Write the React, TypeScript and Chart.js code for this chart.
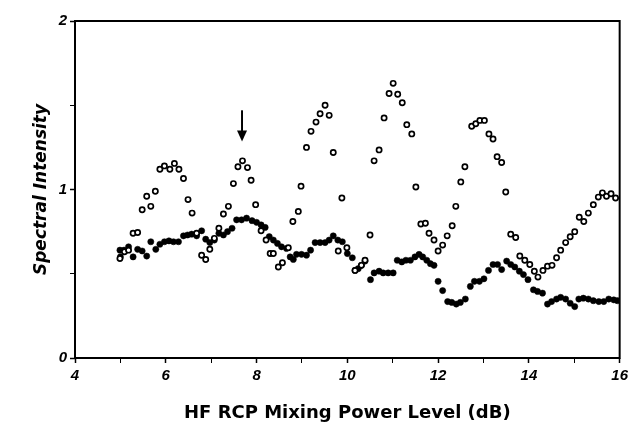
import React, { useEffect, useRef } from 'react';
import { Chart, registerables } from 'chart.js';

Chart.register(...registerables);

// Open circles series: [x (dB), spectral intensity]
const openSeriesX = [
  4.99, 5.09, 5.18, 5.28, 5.38, 5.48, 5.58, 5.67, 5.77, 5.87, 5.97, 6.09, 6.19, 6.29, 6.39, 6.49, 6.58, 6.68, 6.79, 6.88,
  6.97, 7.07, 7.17, 7.27, 7.38, 7.49, 7.59, 7.69, 7.80, 7.88, 7.98, 8.10, 8.21, 8.30, 8.37, 8.48, 8.57, 8.70, 8.80, 8.92,
  8.98, 9.10, 9.20, 9.31, 9.40, 9.51, 9.60, 9.69, 9.80, 9.88, 9.99, 10.17, 10.31, 10.39, 10.50, 10.59, 10.70, 10.81, 10.92, 11.01,
  11.11, 11.21, 11.31, 11.42, 11.51, 11.62, 11.72, 11.80, 11.91, 12.00, 12.10, 12.20, 12.31, 12.39, 12.50, 12.59, 12.74, 12.83, 12.92, 13.02,
  13.12, 13.21, 13.30, 13.40, 13.49, 13.60, 13.71, 13.80, 13.91, 14.02, 14.12, 14.20, 14.31, 14.41, 14.51, 14.61, 14.70, 14.81, 14.91, 15.01,
  15.11, 15.21, 15.31, 15.42, 15.53, 15.62, 15.71, 15.81, 15.91,
];
const openSeriesY = [
  0.59, 0.63, 0.64, 0.74, 0.745, 0.88, 0.96, 0.90, 0.99, 1.12, 1.14, 1.12, 1.155, 1.12, 1.065, 0.94, 0.86, 0.74, 0.61, 0.585,
  0.645, 0.71, 0.77, 0.855, 0.90, 1.035, 1.135, 1.17, 1.13, 1.055, 0.91, 0.755, 0.70, 0.62, 0.62, 0.54, 0.565, 0.655, 0.81, 0.87,
  1.02, 1.25, 1.345, 1.40, 1.45, 1.50, 1.44, 1.22, 0.635, 0.95, 0.655, 0.52, 0.55, 0.58, 0.73, 1.17, 1.235, 1.425, 1.57, 1.63,
  1.565, 1.515, 1.385, 1.33, 1.015, 0.795, 0.80, 0.74, 0.70, 0.635, 0.67, 0.725, 0.785, 0.90, 1.045, 1.135, 1.375, 1.39, 1.41, 1.41,
  1.33, 1.30, 1.195, 1.16, 0.985, 0.735, 0.715, 0.605, 0.58, 0.555, 0.515, 0.48, 0.52, 0.545, 0.55, 0.595, 0.64, 0.685, 0.72, 0.75,
  0.835, 0.81, 0.86, 0.91, 0.955, 0.98, 0.96, 0.975, 0.95,
];

// Filled circles series
const filledSeriesX = [
  4.99, 5.00, 5.08, 5.18, 5.28, 5.38, 5.48, 5.58, 5.67, 5.78, 5.87, 5.97, 6.07, 6.17, 6.28, 6.39, 6.48, 6.57, 6.68, 6.79,
  6.88, 6.97, 7.07, 7.17, 7.27, 7.36, 7.46, 7.56, 7.67, 7.78, 7.90, 8.00, 8.10, 8.19, 8.28, 8.37, 8.46, 8.55, 8.66, 8.74,
  8.81, 8.88, 8.99, 9.10, 9.19, 9.29, 9.40, 9.51, 9.60, 9.69, 9.79, 9.89, 10.00, 10.11, 10.17, 10.24, 10.31, 10.39, 10.51, 10.59,
  10.70, 10.79, 10.90, 11.01, 11.10, 11.20, 11.29, 11.39, 11.49, 11.58, 11.66, 11.75, 11.83, 11.91, 12.00, 12.10, 12.21, 12.30, 12.40, 12.49,
  12.60, 12.71, 12.80, 12.91, 13.01, 13.11, 13.21, 13.31, 13.40, 13.51, 13.60, 13.69, 13.79, 13.88, 13.98, 14.10, 14.19, 14.30, 14.41, 14.50,
  14.61, 14.70, 14.81, 14.91, 15.01, 15.10, 15.20, 15.31, 15.42, 15.54, 15.65, 15.76, 15.87, 15.95,
];
const filledSeriesY = [
  0.64, 0.60, 0.64, 0.66, 0.60, 0.645, 0.635, 0.605, 0.69, 0.645, 0.675, 0.69, 0.695, 0.69, 0.69, 0.725, 0.73, 0.735, 0.725, 0.755,
  0.705, 0.685, 0.70, 0.74, 0.73, 0.75, 0.77, 0.82, 0.82, 0.83, 0.815, 0.805, 0.79, 0.775, 0.72, 0.70, 0.68, 0.66, 0.65, 0.60,
  0.585, 0.615, 0.615, 0.61, 0.64, 0.685, 0.685, 0.685, 0.70, 0.725, 0.70, 0.69, 0.62, 0.595, 0.52, 0.53, 0.55, 0.575, 0.465, 0.505,
  0.515, 0.505, 0.505, 0.505, 0.58, 0.57, 0.58, 0.58, 0.60, 0.615, 0.60, 0.58, 0.56, 0.55, 0.455, 0.40, 0.335, 0.33, 0.32, 0.33,
  0.35, 0.425, 0.455, 0.455, 0.47, 0.52, 0.555, 0.555, 0.525, 0.575, 0.555, 0.54, 0.515, 0.495, 0.465, 0.405, 0.395, 0.385, 0.32, 0.335,
  0.35, 0.36, 0.35, 0.325, 0.305, 0.35, 0.355, 0.35, 0.34, 0.335, 0.335, 0.35, 0.345, 0.34,
];

const xMin = 4;
const xMax = 16;
const yMin = 0;
const yMax = 2;
const xLabelStep = 2;
const yLabelStep = 1;

// Arrow marker (data units)
const arrowX = 7.68;
const arrowTopY = 1.47;
const arrowTipY = 1.285;

const TICK_FONT = '"Liberation Sans", Arial, Helvetica, sans-serif';
const TITLE_FONT = '"DejaVu Sans", "Liberation Sans", sans-serif';

const toPoints = (xs: number[], ys: number[]) => xs.map((x, i) => ({ x, y: ys[i] }));

const framePlugin = {
  id: 'frameAndArrow',
  afterDatasetsDraw(chart: any) {
    const { ctx, chartArea, scales } = chart;
    ctx.save();
    ctx.strokeStyle = '#000';
    ctx.lineWidth = 2;
    ctx.strokeRect(chartArea.left, chartArea.top, chartArea.right - chartArea.left, chartArea.bottom - chartArea.top);
    // arrow
    const ax = scales.x.getPixelForValue(arrowX);
    const ay0 = scales.y.getPixelForValue(arrowTopY);
    const ay1 = scales.y.getPixelForValue(arrowTipY);
    ctx.lineWidth = 2;
    ctx.beginPath();
    ctx.moveTo(ax, ay0);
    ctx.lineTo(ax, ay1 - 8);
    ctx.stroke();
    ctx.fillStyle = '#000';
    ctx.beginPath();
    ctx.moveTo(ax - 5, ay1 - 11);
    ctx.lineTo(ax + 5, ay1 - 11);
    ctx.lineTo(ax, ay1);
    ctx.closePath();
    ctx.fill();
    ctx.restore();
  },
};

export default function App() {
  const canvasRef = useRef<HTMLCanvasElement | null>(null);

  useEffect(() => {
    if (!canvasRef.current) return;
    const chart = new Chart(canvasRef.current, {
      type: 'scatter',
      data: {
        datasets: [
          {
            label: 'open',
            data: toPoints(openSeriesX, openSeriesY),
            pointStyle: 'circle',
            pointRadius: 2.6,
            pointBorderWidth: 1.7,
            pointBorderColor: '#000',
            pointBackgroundColor: '#fff',
            showLine: false,
          },
          {
            label: 'filled',
            data: toPoints(filledSeriesX, filledSeriesY),
            pointStyle: 'circle',
            pointRadius: 3.1,
            pointBorderWidth: 0.5,
            pointBorderColor: '#000',
            pointBackgroundColor: '#000',
            showLine: false,
          },
        ],
      },
      options: {
        animation: false,
        responsive: false,
        devicePixelRatio: 1,
        layout: { padding: { top: 21, right: 12, left: 0, bottom: 0 } },
        plugins: {
          legend: { display: false },
          tooltip: { enabled: false },
        },
        scales: {
          x: {
            type: 'linear',
            min: xMin,
            max: xMax,
            border: { display: false },
            grid: {
              drawOnChartArea: false,
              drawTicks: true,
              tickLength: 5,
              tickColor: '#000',
              tickWidth: (c: any) => (c.tick && c.tick.value % xLabelStep === 0 ? 1.5 : 1),
            },
            ticks: {
              stepSize: 1,
              autoSkip: false,
              maxRotation: 0,
              padding: 4,
              color: '#000',
              font: { family: TICK_FONT, size: 15, weight: 'bold', style: 'italic' },
              callback: (v: any) => (Number(v) % xLabelStep === 0 ? String(v) : ''),
            },
            title: {
              display: true,
              text: 'HF RCP Mixing Power Level (dB)',
              color: '#000',
              font: { family: TITLE_FONT, size: 18, weight: 'bold' },
              padding: { top: 0, bottom: 3 },
            },
            afterFit: (s: any) => {
              s.height = 69;
            },
          },
          y: {
            type: 'linear',
            min: yMin,
            max: yMax,
            border: { display: false },
            grid: {
              drawOnChartArea: false,
              drawTicks: true,
              tickLength: 5,
              tickColor: '#000',
              tickWidth: (c: any) => (c.tick && c.tick.value % yLabelStep === 0 ? 1.5 : 1),
            },
            ticks: {
              stepSize: 0.5,
              autoSkip: false,
              padding: 3,
              color: '#000',
              font: { family: TICK_FONT, size: 15, weight: 'bold', style: 'italic' },
              callback: (v: any) => (Number(v) % yLabelStep === 0 ? String(v) : ''),
            },
            title: {
              display: true,
              text: 'Spectral Intensity',
              color: '#000',
              font: { family: TITLE_FONT, size: 17, weight: 'bold', style: 'italic' },
              padding: { top: 31, bottom: 0 },
            },
            afterFit: (s: any) => {
              s.width = 75;
            },
          },
        },
      },
      plugins: [framePlugin],
    });
    return () => chart.destroy();
  }, []);

  return (
    <div style={{ position: 'fixed', left: 0, top: 0, width: 632, height: 427, background: '#fff' }}>
      <canvas ref={canvasRef} width={632} height={427} style={{ display: 'block', width: 632, height: 427 }} />
    </div>
  );
}
